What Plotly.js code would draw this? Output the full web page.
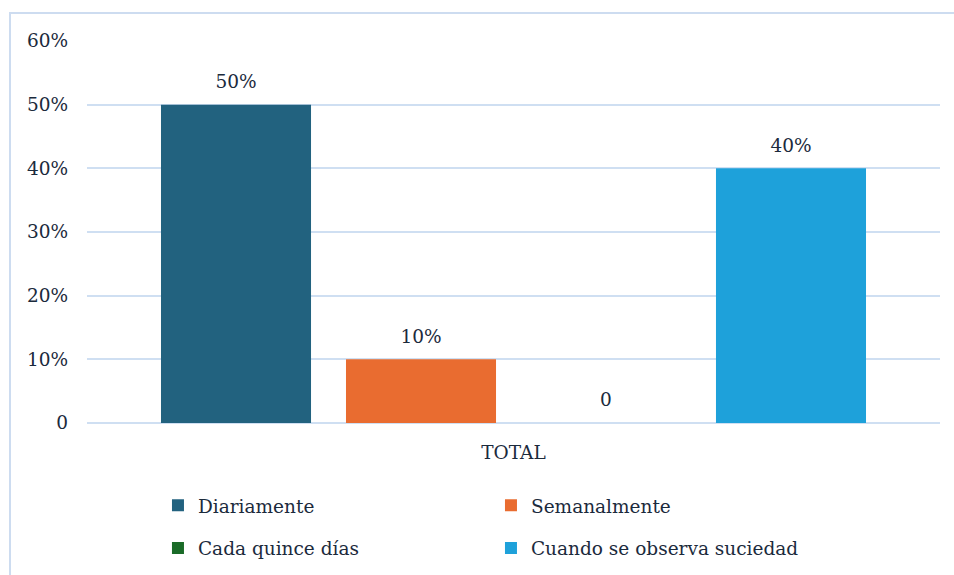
<!DOCTYPE html>
<html>
<head>
<meta charset="utf-8">
<script src="https://cdn.plot.ly/plotly-3.0.1.min.js"></script>
<style>
  html, body { margin: 0; padding: 0; background: #ffffff; }
  #wrap { position: relative; width: 954px; height: 575px; overflow: hidden; }
  #frame { position: absolute; left: 9px; top: 12px; width: 960px; height: 600px;
           border-left: 2px solid #cddcf0; border-top: 2px solid #cddcf0; box-sizing: border-box; }
  #chart { position: absolute; left: 0; top: 0; width: 954px; height: 575px; }
</style>
</head>
<body>
<div id="wrap">
  <div id="frame"></div>
  <div id="chart"></div>
</div>
<script>
// ---- data ----
const categories = ["TOTAL"];
const seriesNames = ["Diariamente", "Semanalmente", "Cada quince días", "Cuando se observa suciedad"];
const seriesValues = [0.50, 0.10, 0.00, 0.40];
const seriesLabels = ["50%", "10%", "0", "40%"];
const seriesColors = ["#22627f", "#e96c30", "#1a6b28", "#1ea1da"];
const legendOf = ["legend", "legend", "legend2", "legend2"];
const yTickVals = [0, 0.1, 0.2, 0.3, 0.4, 0.5, 0.6];
const yTickText = ["0", "10%", "20%", "30%", "40%", "50%", "60%"];

const textColor = "#1b2a3c";
const fontFamily = "DejaVu Serif";
const fontSize = 18.5;
const gridColor = "#cfdff2";

const traces = seriesNames.map((name, i) => ({
  type: "bar",
  name: name,
  x: categories,
  y: [seriesValues[i]],
  text: ["<span style='font-size:" + fontSize + "px'>" + seriesLabels[i] + "</span><br>&nbsp;"],
  textposition: "outside",
  textfont: { family: fontFamily, size: 9, color: textColor },
  cliponaxis: false,
  marker: { color: seriesColors[i], line: { width: 0 } },
  legend: legendOf[i],
  hoverinfo: "name+y"
}));

const legendBase = {
  orientation: "h",
  x: 0.0832,
  xanchor: "left",
  yanchor: "top",
  entrywidth: 288,
  entrywidthmode: "pixels",
  bgcolor: "rgba(0,0,0,0)",
  font: { family: fontFamily, size: fontSize, color: textColor },
  itemclick: false,
  itemdoubleclick: false
};

const layout = {
  width: 954,
  height: 575,
  margin: { l: 87, r: 14, t: 41, b: 152, autoexpand: false },
  paper_bgcolor: "rgba(0,0,0,0)",
  plot_bgcolor: "rgba(0,0,0,0)",
  font: { family: fontFamily, size: fontSize, color: textColor },
  barmode: "group",
  bargap: 0.1325,
  bargroupgap: 0.189,
  xaxis: {
    type: "category",
    showgrid: false,
    showline: false,
    zeroline: false,
    ticks: "",
    ticklabelstandoff: 16,
    tickfont: { family: fontFamily, size: fontSize, color: textColor }
  },
  yaxis: {
    range: [0, 0.6],
    tickvals: yTickVals,
    ticktext: yTickText,
    showgrid: true,
    gridcolor: gridColor,
    gridwidth: 2,
    zeroline: true,
    zerolinecolor: gridColor,
    zerolinewidth: 2,
    showline: false,
    ticks: "",
    ticklabelstandoff: 18,
    tickfont: { family: fontFamily, size: fontSize, color: textColor }
  },
  legend: Object.assign({}, legendBase, { y: -0.167 }),
  legend2: Object.assign({}, legendBase, { y: -0.279 }),
  showlegend: true
};

Plotly.newPlot("chart", traces, layout, { displayModeBar: false, staticPlot: true });
</script>
</body>
</html>
